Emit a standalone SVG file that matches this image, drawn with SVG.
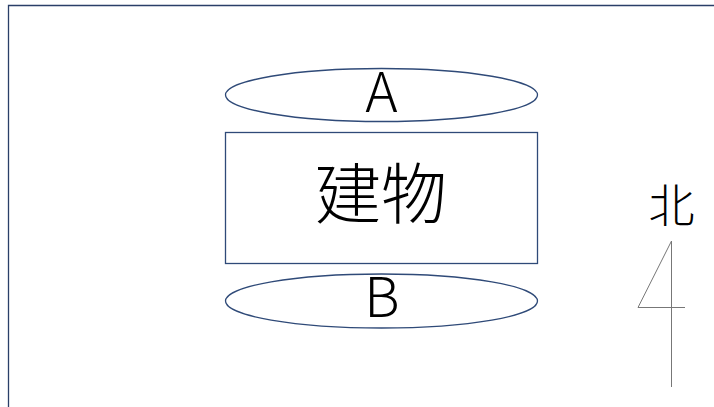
<svg xmlns="http://www.w3.org/2000/svg" width="714" height="407" viewBox="0 0 714 407">
<style>
.s{fill:none;stroke:#2f4a78;stroke-width:1.3}
.t{fill:#000;font-family:"Noto Sans CJK JP","Noto Sans",sans-serif;font-weight:300;text-anchor:middle}
.n{fill:none;stroke:#777;stroke-width:1}
</style>
<rect width="714" height="407" fill="#fff"/>
<path d="M8.500 407V5.500H714" fill="none" stroke="#2a3f68" stroke-width="1.300"/>
<g id="node-a"><ellipse class="s" cx="381.500" cy="95" rx="156" ry="26.500"/><text class="t" x="381.500" y="112" font-size="55">A</text></g>
<g id="node-building"><rect class="s" x="225.500" y="132.500" width="312" height="131"/><text class="t" x="381" y="218" font-size="66">建物</text></g>
<g id="node-b"><ellipse class="s" cx="381.500" cy="301" rx="156" ry="27"/><text class="t" x="382" y="317" font-size="55">B</text></g>
<g id="node-north"><text class="t" x="671.500" y="222" font-size="46">北</text></g>
<g id="connectors"><path class="n" d="M671.500 241V387M671.500 241L638 307.500H685"/></g>
</svg>
